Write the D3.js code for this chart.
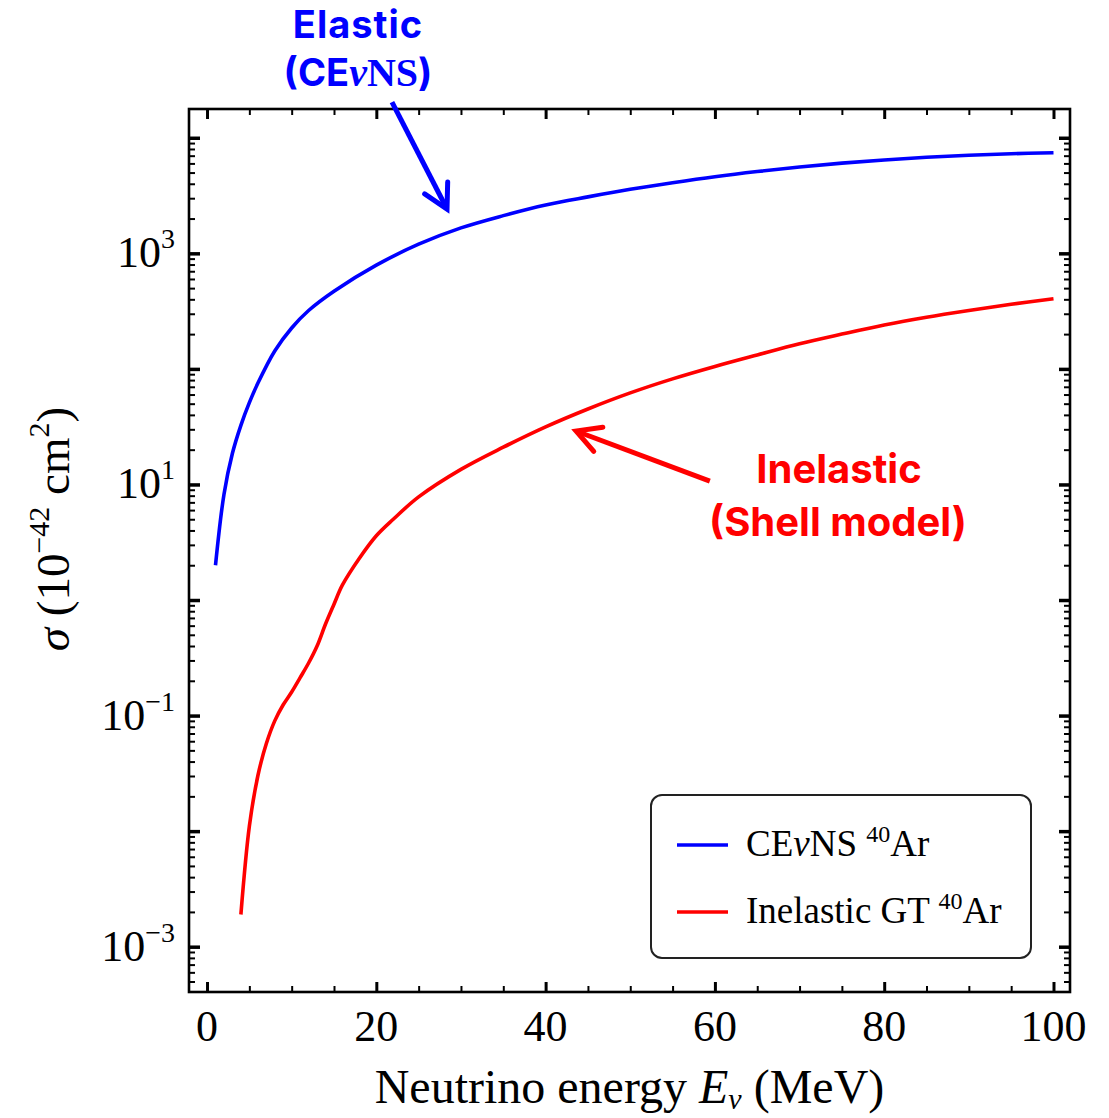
<!DOCTYPE html>
<html>
<head>
<meta charset="utf-8">
<script src="https://cdn.jsdelivr.net/npm/d3@7"></script>
<style>
  html, body { margin: 0; padding: 0; background: #fff; }
  svg { display: block; }
</style>
</head>
<body>
<script>
// ---------------- DATA ----------------
const cevnsE     = [1, 2, 3, 4, 5, 6, 8, 10, 12, 15, 20, 25, 30, 35, 40, 45, 50, 55, 60, 65, 70, 75, 80, 85, 90, 95, 100];
const cevnsSigma = [2.0, 8.2, 18.6, 32.5, 51, 75, 143, 226, 320, 470, 790, 1200, 1660, 2120, 2620, 3080, 3580, 4080, 4600, 5100, 5580, 6030, 6420, 6780, 7060, 7280, 7420];

const gtE     = [4, 5, 6, 7, 8, 9, 10, 11, 12, 13, 14, 15, 16, 18, 20, 22, 25, 30, 35, 40, 45, 50, 55, 60, 65, 70, 75, 80, 85, 90, 95, 100];
const gtSigma = [0.0019, 0.011, 0.030, 0.057, 0.090, 0.124, 0.160, 0.213, 0.285, 0.40, 0.62, 0.92, 1.35, 2.3, 3.6, 5.0, 7.8, 13.5, 21, 31.5, 45, 62, 82, 105, 132, 165, 200, 240, 280, 320, 362, 405];

const xMajorTicks = [0, 20, 40, 60, 80, 100];
const xMinorTicks = [5, 10, 15, 25, 30, 35, 45, 50, 55, 65, 70, 75, 85, 90, 95];
const yDecadeExps = [-3, -2, -1, 0, 1, 2, 3, 4];
const yLabelExps  = [-3, -1, 1, 3];

const legendLabels = ["CEνNS", "Inelastic GT"];
const annotElastic = ["Elastic", "(CEνNS)"];
const annotInelastic = ["Inelastic", "(Shell model)"];
// arrow anchors in data space [E, sigma]
const arrowBlue = { tail: [21.85, 20370], tip: [28.35, 2417] };
const arrowRed  = { tail: [59.4, 10.7],   tip: [43.6, 29.0] };

// ---------------- LAYOUT ----------------
const W = 1109, H = 1118;
const L = 189, R = 1070, T = 109, B = 992;
const serif = "'Liberation Serif', 'Times New Roman', serif";
const sans = "Inter, 'Open Sans', 'Noto Sans', sans-serif";

const svg = d3.select("body").append("svg").attr("width", W).attr("height", H);

const x = d3.scaleLinear().domain([-2.13, 101.95]).range([L, R]);
const y = d3.scaleLog().domain([Math.pow(10, -3.392), Math.pow(10, 4.249)]).range([B, T]);

// minor y ticks
const yMinor = [];
for (let k = -4; k <= 4; k++) for (let m = 2; m <= 9; m++) {
  const v = m * Math.pow(10, k);
  if (v > y.domain()[0] && v < y.domain()[1]) yMinor.push(v);
}
const yMajor = yDecadeExps.map(e => Math.pow(10, e));

function styleAxis(g, w) {
  g.select(".domain").remove();
  g.selectAll(".tick line").attr("stroke", "#000").attr("stroke-width", w);
  g.selectAll(".tick text").remove();
}

// bottom & top
svg.append("g").attr("transform", `translate(0,${B})`)
  .call(d3.axisBottom(x).tickValues(xMajorTicks).tickSize(-10).tickSizeOuter(0).tickFormat(""))
  .call(g => styleAxis(g, 3));
svg.append("g").attr("transform", `translate(0,${B})`)
  .call(d3.axisBottom(x).tickValues(xMinorTicks).tickSize(-6).tickSizeOuter(0).tickFormat(""))
  .call(g => styleAxis(g, 2));
svg.append("g").attr("transform", `translate(0,${T})`)
  .call(d3.axisTop(x).tickValues(xMajorTicks).tickSize(-10).tickSizeOuter(0).tickFormat(""))
  .call(g => styleAxis(g, 3));
svg.append("g").attr("transform", `translate(0,${T})`)
  .call(d3.axisTop(x).tickValues(xMinorTicks).tickSize(-6).tickSizeOuter(0).tickFormat(""))
  .call(g => styleAxis(g, 2));
// left & right
svg.append("g").attr("transform", `translate(${L},0)`)
  .call(d3.axisLeft(y).tickValues(yMajor).tickSize(-11).tickSizeOuter(0).tickFormat(""))
  .call(g => styleAxis(g, 3.5));
svg.append("g").attr("transform", `translate(${L},0)`)
  .call(d3.axisLeft(y).tickValues(yMinor).tickSize(-6).tickSizeOuter(0).tickFormat(""))
  .call(g => styleAxis(g, 2));
svg.append("g").attr("transform", `translate(${R},0)`)
  .call(d3.axisRight(y).tickValues(yMajor).tickSize(-11).tickSizeOuter(0).tickFormat(""))
  .call(g => styleAxis(g, 3.5));
svg.append("g").attr("transform", `translate(${R},0)`)
  .call(d3.axisRight(y).tickValues(yMinor).tickSize(-6).tickSizeOuter(0).tickFormat(""))
  .call(g => styleAxis(g, 2));

// frame
svg.append("rect").attr("x", L).attr("y", T).attr("width", R - L).attr("height", B - T)
  .attr("fill", "none").attr("stroke", "#000").attr("stroke-width", 2.6);

// x tick labels
svg.append("g").selectAll("text").data(xMajorTicks).join("text")
  .attr("x", d => x(d)).attr("y", B + 49)
  .attr("text-anchor", "middle").attr("font-family", serif).attr("font-size", 44)
  .text(d => d);

// y tick labels
const yl = svg.append("g").selectAll("text").data(yLabelExps).join("text")
  .attr("x", 175).attr("y", d => y(Math.pow(10, d)) + 14)
  .attr("text-anchor", "end").attr("font-family", serif).attr("font-size", 44);
yl.append("tspan").text("10");
yl.append("tspan").attr("dy", -19).attr("font-size", 28).text(d => d < 0 ? "−" + (-d) : String(d));

// curves
const line = d3.line().x(d => x(d[0])).y(d => y(d[1])).curve(d3.curveCatmullRom.alpha(0.5));
svg.append("clipPath").attr("id", "clip").append("rect")
  .attr("x", L).attr("y", T).attr("width", R - L).attr("height", B - T);
svg.append("path").datum(cevnsE.map((e, i) => [e, cevnsSigma[i]]))
  .attr("d", line).attr("fill", "none").attr("stroke", "#0000ff").attr("stroke-width", 3.6)
  .attr("clip-path", "url(#clip)");
svg.append("path").datum(gtE.map((e, i) => [e, gtSigma[i]]))
  .attr("d", line).attr("fill", "none").attr("stroke", "#ff0000").attr("stroke-width", 3.6)
  .attr("clip-path", "url(#clip)");

// axis titles
const xt = svg.append("text").attr("x", (L + R) / 2).attr("y", 1103)
  .attr("text-anchor", "middle").attr("font-family", serif).attr("font-size", 48);
xt.append("tspan").text("Neutrino energy ");
xt.append("tspan").attr("font-style", "italic").text("E");
xt.append("tspan").attr("font-style", "italic").attr("font-size", 30).attr("dy", 6).text("ν");
xt.append("tspan").attr("dy", -6).text(" (MeV)");

const ytl = svg.append("text").attr("transform", "translate(69,529) rotate(-90)")
  .attr("text-anchor", "middle").attr("font-family", serif).attr("font-size", 47);
ytl.append("tspan").attr("font-style", "italic").text("σ");
ytl.append("tspan").text(" (10");
ytl.append("tspan").attr("font-size", 30).attr("dy", -20).text("−42");
ytl.append("tspan").attr("dy", 20).text(" cm");
ytl.append("tspan").attr("font-size", 30).attr("dy", -20).text("2");
ytl.append("tspan").attr("dy", 20).text(")");

// legend
const lg = svg.append("g");
lg.append("rect").attr("x", 651).attr("y", 795).attr("width", 380).attr("height", 163).attr("rx", 11)
  .attr("fill", "#fff").attr("stroke", "#222").attr("stroke-width", 2);
const legColors = ["#0000ff", "#ff0000"];
legendLabels.forEach((lab, i) => {
  const yy = 845 + i * 67;
  lg.append("line").attr("x1", 677).attr("x2", 728).attr("y1", yy).attr("y2", yy)
    .attr("stroke", legColors[i]).attr("stroke-width", 3.6);
  const t = lg.append("text").attr("x", 746).attr("y", yy + 11)
    .attr("font-family", serif).attr("font-size", 37);
  if (i === 0) {
    t.append("tspan").text("CE");
    t.append("tspan").attr("font-style", "italic").text("ν");
    t.append("tspan").text("NS ");
  } else {
    t.append("tspan").text(lab + " ");
  }
  t.append("tspan").attr("font-size", 24).attr("dy", -14).text("40");
  t.append("tspan").attr("dy", 14).text("Ar");
});

// annotations
const ae = svg.append("g").attr("font-family", sans).attr("font-weight", 700)
  .attr("fill", "#0000ff").attr("text-anchor", "middle").attr("font-size", 38);
ae.append("text").attr("x", 358).attr("y", 38).attr("letter-spacing", 1)
  .text(annotElastic[0]);
const ae2 = ae.append("text").attr("x", 358).attr("y", 86);
ae2.append("tspan").text("(CE");
ae2.append("tspan").attr("font-family", serif).attr("font-style", "italic").attr("font-size", 40).text("ν");
ae2.append("tspan").attr("font-family", serif).attr("font-size", 40).text("NS");
ae2.append("tspan").text(")");

const ai = svg.append("g").attr("font-family", sans).attr("font-weight", 700).attr("font-size", 40)
  .attr("fill", "#ff0000").attr("text-anchor", "middle");
ai.append("text").attr("x", 839).attr("y", 483).text(annotInelastic[0]);
ai.append("text").attr("x", 838).attr("y", 536).text(annotInelastic[1]);

function arrow(a, color) {
  const x1 = x(a.tail[0]), y1 = y(a.tail[1]), x2 = x(a.tip[0]), y2 = y(a.tip[1]);
  const ang = Math.atan2(y2 - y1, x2 - x1);
  const hl = 27, ha = 0.5;
  const g = svg.append("g").attr("stroke", color).attr("stroke-width", 5).attr("fill", "none")
    .attr("stroke-linecap", "round").attr("stroke-linejoin", "miter");
  g.append("line").attr("x1", x1).attr("y1", y1).attr("x2", x2 - 2 * Math.cos(ang)).attr("y2", y2 - 2 * Math.sin(ang))
    .attr("stroke-linecap", "butt");
  g.append("path").attr("d",
    `M${x2 - hl * Math.cos(ang - ha)},${y2 - hl * Math.sin(ang - ha)} L${x2},${y2} L${x2 - hl * Math.cos(ang + ha)},${y2 - hl * Math.sin(ang + ha)}`);
}
arrow(arrowBlue, "#0000ff");
arrow(arrowRed, "#ff0000");
</script>
</body>
</html>
